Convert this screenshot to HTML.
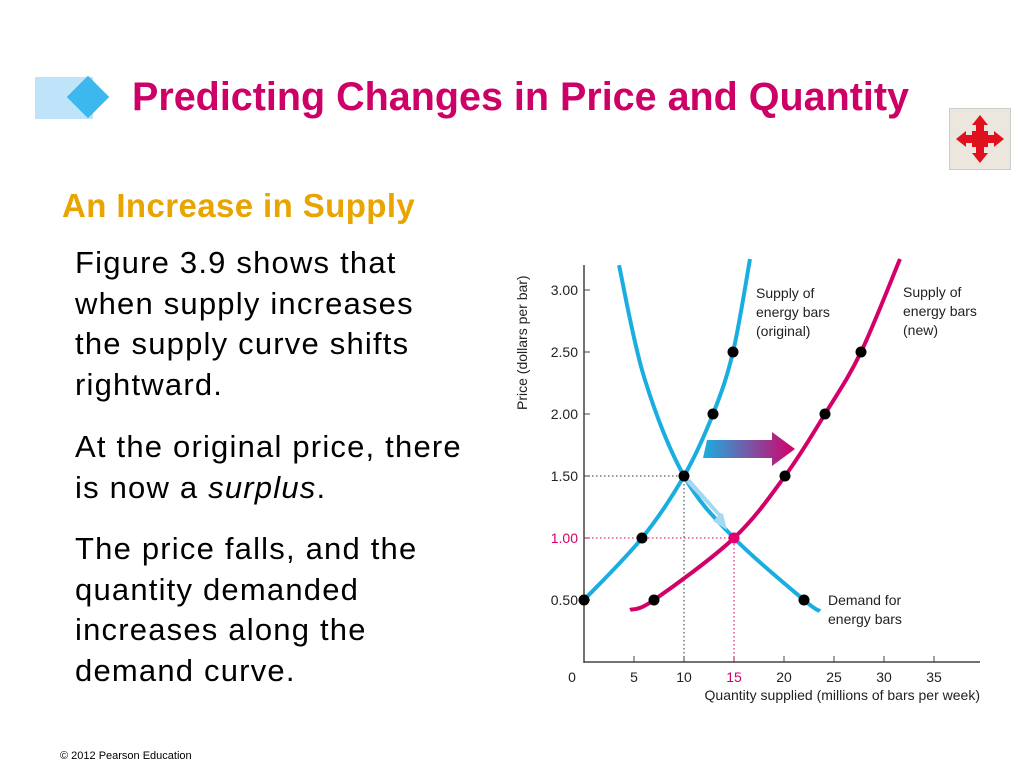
<!DOCTYPE html>
<html><head><meta charset="utf-8"><style>
body{margin:0;width:1024px;height:768px;background:#fff;position:relative;overflow:hidden;font-family:"Liberation Sans",sans-serif}
.a{position:absolute}
</style></head><body>
<div class="a" style="left:35px;top:77px;width:58px;height:42px;background:#bfe3f8"></div>
<div class="a" style="left:73px;top:82px;width:30px;height:30px;background:#3cb8ee;transform:rotate(45deg)"></div>
<div class="a" style="left:132px;top:75px;font-size:39.5px;font-weight:bold;color:#cc0066;white-space:nowrap">Predicting Changes in Price and Quantity</div>
<div class="a" style="left:949px;top:108px;width:62px;height:62px;background:#ebe7df;border:1px solid #ccc;box-sizing:border-box">
<svg width="60" height="60" viewBox="0 0 60 60"><path d="M30 6 L38 16 L34 16 L34 22 L38 22 L38 26 L44 26 L44 22 L54 30 L44 38 L44 34 L38 34 L38 38 L34 38 L34 44 L38 44 L30 54 L22 44 L26 44 L26 38 L22 38 L22 34 L16 34 L16 38 L6 30 L16 22 L16 26 L22 26 L22 22 L26 22 L26 16 L22 16 Z" fill="#e0101e"/></svg></div>
<div class="a" style="left:62px;top:187px;font-size:33px;letter-spacing:0.4px;font-weight:bold;color:#e8a400;white-space:nowrap">An Increase in Supply</div>
<div class="a" style="left:75px;top:243px;width:420px;font-size:31px;letter-spacing:1.2px;line-height:40.5px;color:#000;white-space:nowrap">
<div style="margin-bottom:22px">Figure 3.9 shows that<br>when supply increases<br>the supply curve shifts<br>rightward.</div>
<div style="margin-bottom:21px">At the original price, there<br>is now a <i>surplus</i>.</div>
<div>The price falls, and the<br>quantity demanded<br>increases along the<br>demand curve.</div></div>
<div class="a" style="left:60px;top:750px;font-size:11px">© 2012 Pearson Education</div>
<svg class="a" id="chart" style="left:0;top:0" width="1024" height="768"></svg>
<script>
const xTicks=[0,5,10,15,20,25,30,35];
const yTicks=[0.5,1.0,1.5,2.0,2.5,3.0];
const supplyOrigQ=[0,5.8,10,12.9,14.9,16.6];
const supplyOrigP=[0.5,1.0,1.5,2.0,2.5,3.25];
const supplyNewQ=[4.6,7,15,20.1,24.1,27.7,31.6];
const supplyNewP=[0.42,0.5,1.0,1.5,2.0,2.5,3.25];
const demandQ=[3.5,6,10,15,22,23.6];
const demandP=[3.2,2.3,1.5,1.0,0.5,0.41];
const dotsOrig=[[0,0.5],[5.8,1.0],[10,1.5],[12.9,2.0],[14.9,2.5]];
const dotsNew=[[7,0.5],[20.1,1.5],[24.1,2.0],[27.7,2.5]];
const demandDots=[[22,0.5]];
const eq={q:15,p:1.0}, oldEq={q:10,p:1.5};
const X=q=>584+q*10, Y=p=>662-p*124;
const svg=document.getElementById('chart'), NS='http://www.w3.org/2000/svg';
function mk(t,a,name){const e=document.createElementNS(NS,t);for(const k in a)e.setAttribute(k,a[k]);


svg.appendChild(e);return e;}
function curve(qs,ps){const p=qs.map((q,i)=>[X(q),Y(ps[i])]);let d='M'+p[0];
for(let i=0;i<p.length-1;i++){const p0=p[i-1]||p[i],p1=p[i],p2=p[i+1],p3=p[i+2]||p2;
d+=' C'+(p1[0]+(p2[0]-p0[0])/6)+','+(p1[1]+(p2[1]-p0[1])/6)+' '+(p2[0]-(p3[0]-p1[0])/6)+','+(p2[1]-(p3[1]-p1[1])/6)+' '+p2;}return d;}
const f='font-family:"Liberation Sans",sans-serif;font-size:14px;fill:#222';
mk('line',{x1:584,y1:265,x2:584,y2:663,stroke:'#444','stroke-width':1.5},'y-axis');
mk('line',{x1:584,y1:662,x2:980,y2:662,stroke:'#444','stroke-width':1.5},'x-axis');
xTicks.forEach(t=>{if(t>0)mk('line',{x1:X(t),y1:662,x2:X(t),y2:656,stroke:'#444'},'x-tick');
const e=mk('text',{x:X(t)-(t==0?12:0),y:682,'text-anchor':'middle',style:f+(t==15?';fill:#d4006a':'')},'x-tick-label');e.textContent=t;});
yTicks.forEach(t=>{mk('line',{x1:584,y1:Y(t),x2:590,y2:Y(t),stroke:'#444'},'y-tick');
const e=mk('text',{x:578,y:Y(t)+5,'text-anchor':'end',style:f+(t==1?';fill:#d4006a':'')},'y-tick-label');e.textContent=t.toFixed(2);});
let e=mk('text',{x:980,y:700,'text-anchor':'end',style:f},'x-axis-title');e.textContent='Quantity supplied (millions of bars per week)';
e=mk('text',{x:0,y:0,transform:'translate(527,410) rotate(-90)',style:f},'y-axis-title');e.textContent='Price (dollars per bar)';
mk('path',{d:`M584 ${Y(oldEq.p)} H${X(oldEq.q)} V662`,stroke:'#333',fill:'none','stroke-dasharray':'1.5 2.5'},'old-equilibrium-guide');
mk('path',{d:`M584 ${Y(eq.p)} H${X(eq.q)} V662`,stroke:'#d4006a',fill:'none','stroke-dasharray':'1.5 2.5'},'new-equilibrium-guide');
mk('path',{d:curve(demandQ,demandP),stroke:'#1aaee0','stroke-width':4,fill:'none'},'demand-curve');
mk('path',{d:curve(supplyOrigQ,supplyOrigP),stroke:'#1aaee0','stroke-width':4,fill:'none'},'supply-original-curve');
mk('path',{d:curve(supplyNewQ,supplyNewP),stroke:'#d4006a','stroke-width':4,fill:'none'},'supply-new-curve');
const defs=mk('defs',{},'defs');defs.innerHTML='<linearGradient id="g"><stop offset="0" stop-color="#1aaee0"/><stop offset="1" stop-color="#d4006a"/></linearGradient>';
mk('path',{d:'M707 440 H772 V432 L795 449 L772 466 V458 H703 Z',fill:'url(#g)'},'shift-arrow');
mk('path',{d:'M686 482 L718 516 L713 521 L727 530 L723 514 L720 513 L690 479 Z',fill:'#a6d8f2'},'price-fall-arrow');
dotsOrig.concat(dotsNew,demandDots).forEach(d=>mk('circle',{cx:X(d[0]),cy:Y(d[1]),r:5.5,fill:'#000'},'data-point'));
mk('circle',{cx:X(eq.q),cy:Y(eq.p),r:5.5,fill:'#e0006e'},'new-equilibrium-point');
function lbl(x,y,lines,name){lines.forEach((l,i)=>{const t=mk('text',{x:x,y:y+i*19,style:f},name);t.textContent=l;});}
lbl(756,298,['Supply of','energy bars','(original)'],'label-supply-original');
lbl(903,297,['Supply of','energy bars','(new)'],'label-supply-new');
lbl(828,605,['Demand for','energy bars'],'label-demand');
</script>
</body></html>
